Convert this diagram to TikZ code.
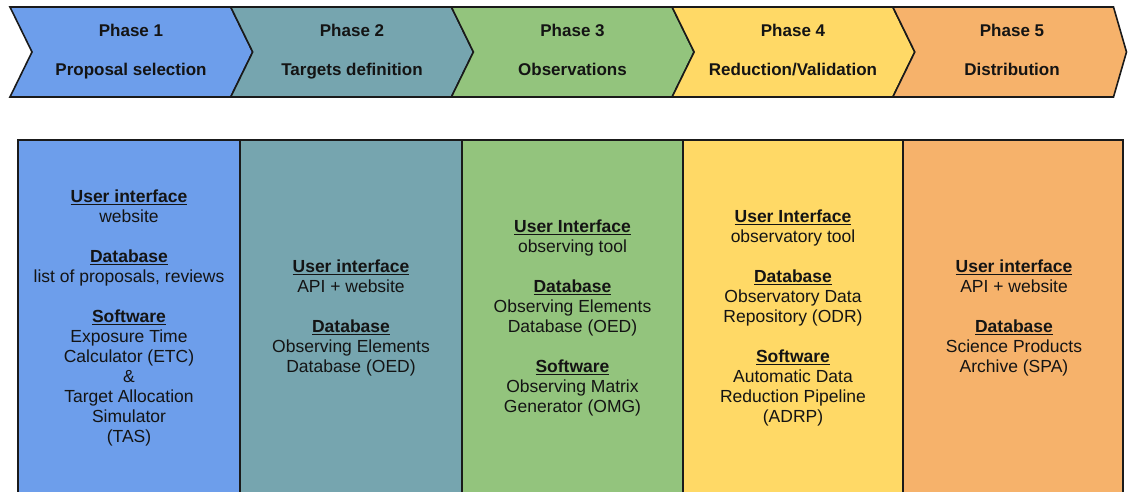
\documentclass[tikz,border=0pt]{standalone}
\usepackage{fontspec}
\setmainfont{Liberation Sans}
\definecolor{pblue}{HTML}{6D9EEB}
\definecolor{pteal}{HTML}{76A5AF}
\definecolor{pgreen}{HTML}{93C47D}
\definecolor{pyellow}{HTML}{FFD966}
\definecolor{porange}{HTML}{F6B26B}
\definecolor{edge}{HTML}{1A1A1A}
\definecolor{ink}{HTML}{141414}
\newcommand\hdr[1]{\setbox0\hbox{\bfseries #1}\rlap{\rule[-2.4pt]{\wd0}{1.3pt}}\box0}
\tikzset{
  chev/.style={draw=edge, line width=1.6pt, line join=miter},
  col/.style={draw=edge, line width=1.4pt},
  phase/.style={anchor=base, inner sep=0pt, text=ink, font=\fontsize{17}{20}\selectfont\bfseries},
  body/.style={align=center, inner sep=0pt, text=ink, font=\fontsize{17.5}{20}\selectfont}
}
\begin{document}
\begin{tikzpicture}[x=1pt,y=-1pt]
\useasboundingbox (0,0) rectangle (1128,492);
\fill[white] (0,0) rectangle (1128,492);
% chevrons
\filldraw[chev, fill=pblue]   (10,7) -- (230.7,7) -- (252.7,52) -- (230.7,97) -- (10,97) -- (32,52) -- cycle;
\filldraw[chev, fill=pteal]   (230.7,7) -- (451.4,7) -- (473.4,52) -- (451.4,97) -- (230.7,97) -- (252.7,52) -- cycle;
\filldraw[chev, fill=pgreen]  (451.4,7) -- (672.1,7) -- (694.1,52) -- (672.1,97) -- (451.4,97) -- (473.4,52) -- cycle;
\filldraw[chev, fill=pyellow] (672.1,7) -- (892.8,7) -- (914.8,52) -- (892.8,97) -- (672.1,97) -- (694.1,52) -- cycle;
\filldraw[chev, fill=porange] (892.8,7) -- (1113.5,7) -- (1126.5,52) -- (1113.5,97) -- (892.8,97) -- (914.8,52) -- cycle;
% chevron labels
\node[phase] (p1) at (131,37) {Phase 1};
\node[phase] (s1) at (131,76) {Proposal selection};
\node[phase] (p2) at (352,37) {Phase 2};
\node[phase] (s2) at (352,76) {Targets definition};
\node[phase] (p3) at (572.5,37) {Phase 3};
\node[phase] (s3) at (572.5,76) {Observations};
\node[phase] (p4) at (793,37) {Phase 4};
\node[phase] (s4) at (793,76) {Reduction/Validation};
\node[phase] (p5) at (1012,37) {Phase 5};
\node[phase] (s5) at (1012,76) {Distribution};
% columns
\fill[pblue]   (18,140) rectangle (240,500);
\fill[pteal]   (240,140) rectangle (462,500);
\fill[pgreen]  (462,140) rectangle (683,500);
\fill[pyellow] (683,140) rectangle (903,500);
\fill[porange] (903,140) rectangle (1123,500);
\draw[col] (18,500) -- (18,140) -- (1123,140) -- (1123,500);
\draw[col] (240,140) -- (240,500);
\draw[col] (462,140) -- (462,500);
\draw[col] (683,140) -- (683,500);
\draw[col] (903,140) -- (903,500);
% column texts
\node[body] (c1) at (129,318) {\hdr{User interface}\\website\\[20pt]\hdr{Database}\\list of proposals, reviews\\[20pt]\hdr{Software}\\Exposure Time\\Calculator (ETC)\\\&\\Target Allocation\\Simulator\\(TAS)};
\node[body] (c2) at (351,318) {\hdr{User interface}\\API + website\\[20pt]\hdr{Database}\\Observing Elements\\Database (OED)};
\node[body] (c3) at (572.5,318) {\hdr{User Interface}\\observing tool\\[20pt]\hdr{Database}\\Observing Elements\\Database (OED)\\[20pt]\hdr{Software}\\Observing Matrix\\Generator (OMG)};
\node[body] (c4) at (793,318) {\hdr{User Interface}\\observatory tool\\[20pt]\hdr{Database}\\Observatory Data\\Repository (ODR)\\[20pt]\hdr{Software}\\Automatic Data\\Reduction Pipeline\\(ADRP)};
\node[body] (c5) at (1014,318) {\hdr{User interface}\\API + website\\[20pt]\hdr{Database}\\Science Products\\Archive (SPA)};
\end{tikzpicture}
\end{document}
